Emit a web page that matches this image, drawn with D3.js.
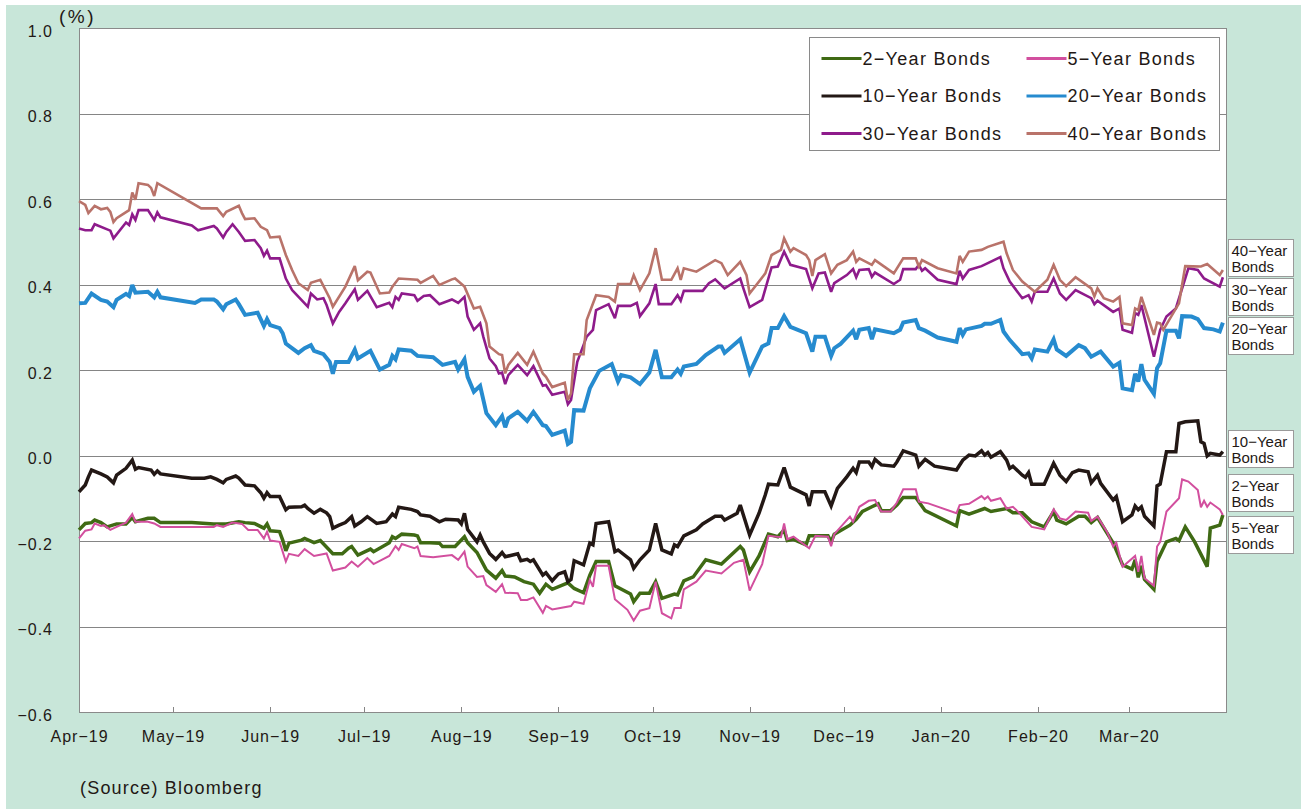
<!DOCTYPE html>
<html>
<head>
<meta charset="utf-8">
<script src="https://cdn.jsdelivr.net/npm/d3@7/dist/d3.min.js"></script>
<style>
  body { margin: 0; background: #fff; }
  text { font-family: "Liberation Sans", Arial, sans-serif; fill: #231815; }
</style>
</head>
<body>
<div class="chart"></div>
<script>
// yields of JGBs, Apr-19 .. Mar-20
const yTicks = [1.0, 0.8, 0.6, 0.4, 0.2, 0.0, -0.2, -0.4, -0.6]
const monthTicks = ["190401","190501","190601","190701","190801","190901","191001","191101","191201","200101","200201","200301"]
const seriesNames = ["2-Year Bonds","5-Year Bonds","10-Year Bonds","20-Year Bonds","30-Year Bonds","40-Year Bonds"]
const sideLabels = ["40-Year Bonds","30-Year Bonds","20-Year Bonds","10-Year Bonds","2-Year Bonds","5-Year Bonds"]

const bond2 = [["190401",-0.174],["190403",-0.159],["190405",-0.157],["190406",-0.151],["190408",-0.157],["190410",-0.167],["190413",-0.160],["190416",-0.160],["190418",-0.145],["190419",-0.155],["190423",-0.147],["190425",-0.147],["190427",-0.157],["190507",-0.157],["190514",-0.160],["190518",-0.160],["190522",-0.155],["190524",-0.157],["190527",-0.159],["190530",-0.170],["190531",-0.160],["190601",-0.176],["190604",-0.178],["190605",-0.198],["190606",-0.223],["190607",-0.205],["190611",-0.198],["190612",-0.194],["190615",-0.204],["190617",-0.199],["190621",-0.230],["190624",-0.230],["190626",-0.217],["190627",-0.213],["190629",-0.233],["190703",-0.219],["190704",-0.225],["190709",-0.204],["190710",-0.190],["190711",-0.194],["190713",-0.184],["190717",-0.186],["190718",-0.188],["190719",-0.204],["190722",-0.204],["190725",-0.205],["190726",-0.213],["190730",-0.213],["190802",-0.190],["190803",-0.204],["190806",-0.227],["190809",-0.268],["190812",-0.287],["190814",-0.269],["190815",-0.282],["190818",-0.284],["190821",-0.295],["190824",-0.301],["190826",-0.322],["190828",-0.301],["190830",-0.313],["190903",-0.301],["190904",-0.298],["190906",-0.311],["190909",-0.321],["190911",-0.280],["190913",-0.248],["190917",-0.248],["190919",-0.305],["190924",-0.324],["190925",-0.342],["190927",-0.322],["190930",-0.322],["191002",-0.295],["191004",-0.334],["191008",-0.324],["191009",-0.326],["191011",-0.293],["191014",-0.284],["191018",-0.244],["191023",-0.254],["191029",-0.213],["191030",-0.221],["191101",-0.272],["191104",-0.235],["191107",-0.184],["191110",-0.190],["191112",-0.174],["191113",-0.199],["191115",-0.196],["191119",-0.209],["191120",-0.188],["191126",-0.188],["191127",-0.202],["191128",-0.184],["191203",-0.163],["191205",-0.149],["191207",-0.131],["191210",-0.120],["191212",-0.113],["191213",-0.129],["191216",-0.129],["191218",-0.116],["191220",-0.098],["191224",-0.098],["191227",-0.129],["200106",-0.165],["200107",-0.129],["200110",-0.137],["200115",-0.124],["200117",-0.131],["200122",-0.124],["200124",-0.134],["200127",-0.134],["200130",-0.155],["200203",-0.167],["200206",-0.131],["200207",-0.151],["200210",-0.160],["200214",-0.142],["200216",-0.142],["200218",-0.157],["200220",-0.145],["200223",-0.181],["200225",-0.205],["200228",-0.256],["200302",-0.266],["200303",-0.244],["200304",-0.285],["200305",-0.258],["200306",-0.290],["200309",-0.313],["200310",-0.248],["200313",-0.202],["200316",-0.194],["200317",-0.199],["200319",-0.167],["200322",-0.202],["200326",-0.260],["200327",-0.170],["200330",-0.163],["200331",-0.139]]

const bond5 = [["190401",-0.194],["190403",-0.176],["190405",-0.173],["190406",-0.159],["190408",-0.165],["190409",-0.163],["190411",-0.174],["190413",-0.167],["190416",-0.157],["190418",-0.137],["190419",-0.155],["190423",-0.155],["190425",-0.159],["190427",-0.167],["190514",-0.167],["190515",-0.163],["190517",-0.167],["190520",-0.157],["190523",-0.160],["190525",-0.174],["190528",-0.174],["190530",-0.194],["190531",-0.178],["190601",-0.199],["190604",-0.202],["190606",-0.248],["190607",-0.230],["190610",-0.235],["190612",-0.219],["190615",-0.235],["190619",-0.229],["190621",-0.269],["190625",-0.262],["190627",-0.248],["190629",-0.260],["190702",-0.240],["190704",-0.254],["190709",-0.235],["190711",-0.212],["190712",-0.221],["190713",-0.207],["190717",-0.217],["190718",-0.213],["190719",-0.235],["190723",-0.238],["190729",-0.233],["190731",-0.244],["190802",-0.225],["190803",-0.260],["190806",-0.284],["190808",-0.282],["190809",-0.303],["190812",-0.319],["190814",-0.301],["190815",-0.321],["190819",-0.322],["190820",-0.338],["190822",-0.338],["190824",-0.332],["190827",-0.368],["190828",-0.352],["190830",-0.360],["190905",-0.352],["190906",-0.342],["190909",-0.347],["190911",-0.291],["190912",-0.307],["190913",-0.258],["190917",-0.258],["190919",-0.336],["190923",-0.361],["190925",-0.386],["190927",-0.363],["190930",-0.357],["191002",-0.295],["191004",-0.369],["191007",-0.381],["191008",-0.357],["191010",-0.357],["191011",-0.313],["191015",-0.295],["191018",-0.269],["191023",-0.276],["191027",-0.251],["191030",-0.244],["191101",-0.316],["191105",-0.254],["191107",-0.188],["191111",-0.191],["191112",-0.159],["191113",-0.196],["191115",-0.190],["191120",-0.217],["191122",-0.188],["191126",-0.190],["191127",-0.212],["191128",-0.184],["191203",-0.143],["191204",-0.155],["191206",-0.120],["191209",-0.106],["191211",-0.104],["191213",-0.131],["191216",-0.131],["191218",-0.110],["191220",-0.079],["191224",-0.079],["191225",-0.108],["191228",-0.112],["200106",-0.135],["200107",-0.116],["200110",-0.113],["200114",-0.095],["200115",-0.102],["200116",-0.096],["200117",-0.106],["200120",-0.100],["200122",-0.124],["200124",-0.120],["200126",-0.134],["200130",-0.167],["200203",-0.173],["200206",-0.126],["200208",-0.147],["200210",-0.151],["200213",-0.131],["200217",-0.134],["200218",-0.153],["200220",-0.143],["200223",-0.178],["200225",-0.213],["200226",-0.204],["200228",-0.260],["200303",-0.235],["200304",-0.272],["200305",-0.235],["200306",-0.287],["200309",-0.305],["200310",-0.213],["200311",-0.202],["200313",-0.131],["200317",-0.100],["200318",-0.056],["200320",-0.061],["200323",-0.081],["200324",-0.121],["200325",-0.106],["200326",-0.120],["200327",-0.110],["200330",-0.126],["200331",-0.139]]

const bond10 = [["190401",-0.085],["190403",-0.069],["190404",-0.050],["190405",-0.034],["190408",-0.043],["190410",-0.050],["190411",-0.057],["190412",-0.064],["190413",-0.046],["190416",-0.030],["190418",-0.011],["190419",-0.032],["190420",-0.028],["190424",-0.034],["190425",-0.044],["190426",-0.036],["190427",-0.043],["190507",-0.053],["190511",-0.053],["190513",-0.050],["190515",-0.056],["190517",-0.064],["190518",-0.056],["190521",-0.048],["190522",-0.053],["190524",-0.069],["190527",-0.071],["190529",-0.087],["190530",-0.100],["190531",-0.087],["190601",-0.096],["190604",-0.096],["190606",-0.127],["190607",-0.121],["190611",-0.120],["190612",-0.116],["190613",-0.124],["190615",-0.135],["190617",-0.126],["190619",-0.134],["190620",-0.143],["190621",-0.170],["190623",-0.163],["190625",-0.157],["190627",-0.143],["190628",-0.165],["190630",-0.155],["190702",-0.143],["190705",-0.159],["190708",-0.155],["190710",-0.137],["190711",-0.143],["190712",-0.121],["190716",-0.126],["190718",-0.131],["190719",-0.139],["190722",-0.142],["190725",-0.155],["190727",-0.149],["190731",-0.151],["190801",-0.160],["190802",-0.135],["190803",-0.173],["190806",-0.202],["190807",-0.186],["190808",-0.202],["190810",-0.229],["190812",-0.243],["190814",-0.227],["190815",-0.237],["190819",-0.230],["190820",-0.246],["190822",-0.243],["190823",-0.248],["190824",-0.244],["190827",-0.280],["190828",-0.274],["190830",-0.293],["190901",-0.277],["190903",-0.272],["190904",-0.295],["190905",-0.290],["190906",-0.246],["190909",-0.256],["190911",-0.205],["190912",-0.209],["190913",-0.159],["190917",-0.155],["190919",-0.225],["190920",-0.221],["190924",-0.244],["190925",-0.264],["190927",-0.244],["190930",-0.221],["191002",-0.159],["191003",-0.190],["191004",-0.221],["191007",-0.230],["191008",-0.209],["191009",-0.213],["191011",-0.188],["191015",-0.174],["191017",-0.160],["191021",-0.142],["191023",-0.142],["191024",-0.151],["191028",-0.135],["191029",-0.116],["191101",-0.186],["191104",-0.135],["191106",-0.092],["191107",-0.067],["191110",-0.069],["191112",-0.028],["191114",-0.074],["191119",-0.092],["191120",-0.118],["191121",-0.085],["191125",-0.085],["191127",-0.118],["191129",-0.077],["191202",-0.050],["191204",-0.030],["191205",-0.040],["191206",-0.015],["191209",-0.015],["191210",-0.026],["191211",-0.009],["191213",-0.022],["191217",-0.025],["191218",-0.015],["191220",0.011],["191224",0.001],["191225",-0.025],["191227",-0.009],["191230",-0.025],["200106",-0.034],["200108",-0.011],["200110",0.001],["200112",-0.001],["200114",0.011],["200115",0.001],["200116",0.007],["200117",-0.004],["200120",0.009],["200122",-0.011],["200123",-0.030],["200124",-0.025],["200127",-0.046],["200128",-0.051],["200129",-0.040],["200130",-0.067],["200203",-0.067],["200206",-0.018],["200208",-0.046],["200210",-0.061],["200212",-0.040],["200214",-0.034],["200217",-0.038],["200218",-0.064],["200220",-0.046],["200221",-0.065],["200225",-0.104],["200226",-0.096],["200228",-0.155],["200302",-0.139],["200303",-0.118],["200304",-0.127],["200305",-0.120],["200306",-0.142],["200309",-0.165],["200310",-0.071],["200311",-0.067],["200313",0.009],["200316",0.009],["200317",0.075],["200319",0.079],["200323",0.081],["200324",0.032],["200325",0.028],["200326",-0.001],["200327",0.005],["200330",0.001],["200331",0.009]]

const bond20 = [["190401",0.356],["190403",0.357],["190405",0.379],["190408",0.364],["190410",0.360],["190412",0.347],["190413",0.364],["190416",0.378],["190417",0.373],["190418",0.399],["190419",0.381],["190423",0.383],["190425",0.370],["190426",0.383],["190427",0.370],["190508",0.357],["190510",0.365],["190514",0.365],["190515",0.360],["190517",0.342],["190518",0.354],["190521",0.365],["190522",0.354],["190524",0.329],["190528",0.334],["190530",0.303],["190531",0.319],["190601",0.305],["190604",0.298],["190605",0.286],["190606",0.262],["190610",0.240],["190612",0.251],["190614",0.258],["190615",0.245],["190618",0.237],["190620",0.219],["190621",0.191],["190622",0.219],["190626",0.219],["190628",0.248],["190629",0.227],["190703",0.245],["190706",0.201],["190709",0.212],["190710",0.233],["190711",0.225],["190712",0.248],["190716",0.245],["190718",0.233],["190723",0.230],["190726",0.212],["190730",0.219],["190731",0.201],["190802",0.225],["190803",0.184],["190805",0.149],["190807",0.163],["190809",0.099],["190812",0.071],["190814",0.092],["190815",0.066],["190816",0.087],["190819",0.102],["190822",0.081],["190824",0.102],["190827",0.071],["190828",0.069],["190830",0.048],["190903",0.058],["190904",0.027],["190905",0.032],["190906",0.106],["190909",0.105],["190911",0.157],["190914",0.198],["190918",0.214],["190920",0.173],["190921",0.188],["190924",0.183],["190927",0.167],["190930",0.194],["191002",0.247],["191004",0.183],["191007",0.183],["191009",0.201],["191010",0.191],["191011",0.208],["191015",0.214],["191018",0.235],["191022",0.255],["191023",0.255],["191024",0.240],["191029",0.272],["191101",0.194],["191105",0.255],["191107",0.262],["191108",0.298],["191110",0.298],["191112",0.326],["191114",0.301],["191119",0.286],["191121",0.243],["191122",0.278],["191125",0.278],["191127",0.233],["191128",0.251],["191130",0.261],["191204",0.292],["191205",0.272],["191206",0.294],["191209",0.298],["191210",0.272],["191211",0.295],["191217",0.286],["191219",0.294],["191220",0.311],["191224",0.317],["191225",0.298],["191227",0.292],["191231",0.276],["200106",0.266],["200107",0.298],["200108",0.282],["200109",0.295],["200114",0.303],["200115",0.308],["200117",0.308],["200120",0.317],["200121",0.290],["200123",0.270],["200127",0.237],["200129",0.239],["200130",0.227],["200131",0.248],["200204",0.243],["200206",0.272],["200207",0.248],["200210",0.233],["200214",0.258],["200216",0.251],["200218",0.231],["200221",0.243],["200225",0.208],["200227",0.217],["200228",0.157],["200302",0.153],["200303",0.191],["200304",0.173],["200305",0.214],["200306",0.177],["200309",0.144],["200310",0.204],["200311",0.216],["200313",0.292],["200316",0.292],["200317",0.274],["200318",0.326],["200321",0.325],["200323",0.319],["200325",0.298],["200328",0.295],["200330",0.290],["200331",0.311]]

const bond30 = [["190401",0.531],["190403",0.527],["190405",0.527],["190406",0.541],["190410",0.529],["190411",0.526],["190412",0.508],["190416",0.545],["190417",0.539],["190418",0.564],["190419",0.551],["190420",0.574],["190423",0.574],["190425",0.551],["190426",0.569],["190427",0.557],["190507",0.538],["190509",0.527],["190514",0.537],["190515",0.531],["190517",0.510],["190518",0.523],["190520",0.541],["190522",0.523],["190524",0.502],["190527",0.504],["190529",0.485],["190530",0.467],["190531",0.479],["190601",0.461],["190604",0.461],["190606",0.414],["190608",0.387],["190609",0.379],["190613",0.348],["190614",0.379],["190616",0.365],["190618",0.368],["190619",0.352],["190621",0.309],["190623",0.336],["190625",0.356],["190628",0.389],["190629",0.364],["190702",0.385],["190705",0.347],["190707",0.352],["190709",0.357],["190710",0.347],["190711",0.371],["190712",0.364],["190713",0.379],["190717",0.375],["190718",0.362],["190720",0.373],["190722",0.375],["190725",0.354],["190729",0.365],["190731",0.357],["190802",0.371],["190803",0.325],["190805",0.294],["190807",0.309],["190808",0.278],["190810",0.227],["190812",0.209],["190813",0.192],["190814",0.194],["190815",0.167],["190816",0.188],["190819",0.212],["190822",0.188],["190824",0.209],["190827",0.163],["190828",0.165],["190830",0.142],["190903",0.149],["190904",0.120],["190905",0.130],["190907",0.219],["190910",0.278],["190912",0.294],["190913",0.340],["190917",0.354],["190919",0.321],["190920",0.350],["190924",0.350],["190926",0.357],["190927",0.326],["190930",0.356],["191002",0.401],["191003",0.354],["191007",0.354],["191009",0.375],["191010",0.362],["191011",0.385],["191017",0.385],["191019",0.403],["191021",0.412],["191024",0.391],["191029",0.414],["191030",0.391],["191101",0.347],["191105",0.364],["191108",0.440],["191110",0.442],["191112",0.477],["191114",0.446],["191119",0.436],["191121",0.391],["191123",0.426],["191125",0.428],["191127",0.383],["191128",0.403],["191202",0.422],["191204",0.436],["191205",0.417],["191206",0.434],["191209",0.436],["191210",0.418],["191211",0.428],["191217",0.401],["191219",0.411],["191220",0.436],["191224",0.436],["191225",0.446],["191226",0.432],["191227",0.438],["191231",0.411],["200106",0.401],["200107",0.432],["200108",0.414],["200110",0.434],["200114",0.443],["200116",0.450],["200120",0.464],["200121",0.438],["200123",0.407],["200127",0.368],["200129",0.375],["200130",0.360],["200131",0.383],["200204",0.383],["200206",0.414],["200208",0.379],["200210",0.364],["200213",0.387],["200218",0.368],["200219",0.354],["200220",0.362],["200225",0.336],["200227",0.344],["200228",0.294],["200302",0.287],["200303",0.333],["200304",0.329],["200305",0.352],["200309",0.231],["200311",0.294],["200313",0.325],["200316",0.344],["200320",0.438],["200323",0.434],["200325",0.414],["200330",0.395],["200331",0.417]]

const bond40 = [["190401",0.595],["190403",0.586],["190404",0.567],["190406",0.584],["190408",0.576],["190410",0.579],["190411",0.570],["190412",0.546],["190413",0.555],["190417",0.574],["190418",0.615],["190419",0.598],["190420",0.637],["190423",0.633],["190424",0.626],["190425",0.607],["190426",0.637],["190510",0.578],["190515",0.578],["190517",0.560],["190518",0.570],["190522",0.584],["190523",0.567],["190524",0.553],["190527",0.555],["190529",0.535],["190531",0.527],["190601",0.510],["190604",0.512],["190606",0.469],["190608",0.434],["190610",0.403],["190613",0.387],["190614",0.404],["190617",0.411],["190620",0.368],["190621",0.348],["190625",0.395],["190628",0.443],["190629",0.410],["190702",0.430],["190703",0.428],["190706",0.379],["190709",0.381],["190710",0.395],["190712",0.414],["190718",0.411],["190719",0.404],["190723",0.420],["190725",0.399],["190729",0.412],["190730",0.414],["190802",0.395],["190805",0.344],["190807",0.348],["190809",0.309],["190810",0.255],["190813",0.237],["190814",0.235],["190815",0.192],["190816",0.212],["190819",0.240],["190822",0.212],["190824",0.243],["190827",0.192],["190828",0.184],["190830",0.160],["190903",0.170],["190904",0.130],["190905",0.145],["190906",0.237],["190909",0.237],["190910",0.317],["190913",0.375],["190917",0.371],["190919",0.360],["190920",0.401],["190924",0.401],["190925",0.422],["190927",0.387],["190930",0.426],["191002",0.485],["191004",0.411],["191007",0.411],["191009",0.438],["191010",0.411],["191011",0.438],["191015",0.430],["191021",0.457],["191023",0.450],["191025",0.422],["191029",0.453],["191031",0.422],["191101",0.379],["191106",0.426],["191108",0.469],["191111",0.481],["191112",0.508],["191114",0.477],["191115",0.485],["191119",0.469],["191120",0.457],["191121",0.420],["191122",0.457],["191125",0.471],["191127",0.426],["191129",0.446],["191202",0.457],["191204",0.477],["191205",0.453],["191206",0.461],["191210",0.446],["191211",0.457],["191217",0.426],["191220",0.461],["191224",0.461],["191225",0.442],["191226",0.457],["191231",0.438],["200106",0.426],["200107",0.467],["200108",0.453],["200110",0.477],["200114",0.481],["200116",0.488],["200121",0.500],["200122",0.473],["200124",0.434],["200127",0.407],["200131",0.383],["200204",0.411],["200206",0.446],["200208",0.411],["200210",0.396],["200213",0.417],["200218",0.391],["200219",0.372],["200220",0.391],["200222",0.368],["200225",0.360],["200227",0.371],["200228",0.309],["200302",0.305],["200303",0.344],["200304",0.340],["200305",0.371],["200309",0.282],["200310",0.311],["200311",0.309],["200312",0.294],["200317",0.356],["200319",0.443],["200324",0.442],["200326",0.448],["200330",0.422],["200331",0.434]]

const seriesData = [bond2, bond5, bond10, bond20, bond30, bond40]

// styles
const colors = ["#3f6a14", "#d24f9e", "#231815", "#268bcf", "#8e1b8b", "#b9736a"]
const widths = [3.5, 2, 3.5, 4, 2.6, 2.6]

const W = 1301, H = 809
const margin = {top: 28, right: 75, bottom: 97, left: 79}
const plotW = W - margin.left - margin.right
const plotH = H - margin.top - margin.bottom
const minus = s => s.replace(/-/g, "\u2212")
const parse = d3.timeParse("%y%m%d")

let svg = d3.select(".chart")
  .append("svg")
    .attr("width", W)
    .attr("height", H)

// mint backdrop
svg.append("rect")
  .attr("x", 6).attr("y", 5)
  .attr("width", W - 6).attr("height", H - 5)
  .attr("fill", "#c8e6d9")

let g = svg.append("g")
  .attr("transform", "translate(" + margin.left + "," + margin.top + ")")

g.append("rect")
  .attr("width", plotW).attr("height", plotH)
  .attr("fill", "#fff")

let x = d3.scaleTime()
  .domain([parse("190401"), parse("200401")])
  .range([0, plotW])

let y = d3.scaleLinear()
  .domain([-0.6, 1.0])
  .range([plotH, 0])

// y grid + labels
let yAxis = g.append("g")
  .call(d3.axisLeft(y)
    .tickValues(yTicks)
    .tickSizeInner(-plotW)
    .tickSizeOuter(0)
    .tickPadding(26)
    .tickFormat(d => minus(d3.format(".1f")(d))))
yAxis.select(".domain").remove()
yAxis.selectAll("line")
  .attr("stroke", "#858585")
  .attr("shape-rendering", "crispEdges")
yAxis.selectAll("text")
  .attr("dy", "0.5em")
  .style("font-size", "16px")
  .style("letter-spacing", "1px")
  .style("font-family", "Liberation Sans, Arial, sans-serif")
  .attr("fill", "#231815")

// x axis: small inward ticks, labels centred on month starts
let xAxis = g.append("g")
  .attr("transform", "translate(0," + plotH + ")")
  .call(d3.axisBottom(x)
    .tickValues(monthTicks.map(parse))
    .tickSizeInner(-5)
    .tickSizeOuter(0)
    .tickPadding(19)
    .tickFormat(d => minus(d3.timeFormat("%b-%y")(d))))
xAxis.select(".domain").remove()
xAxis.selectAll("line")
  .attr("stroke", "#858585")
  .attr("shape-rendering", "crispEdges")
xAxis.selectAll("text")
  .style("font-size", "16px")
  .style("letter-spacing", "1px")
  .style("font-family", "Liberation Sans, Arial, sans-serif")
  .attr("fill", "#231815")

// frame
g.append("rect")
  .attr("x", 0.5).attr("y", 0.5)
  .attr("width", plotW).attr("height", plotH)
  .attr("fill", "none")
  .attr("stroke", "#8a8a8a")

let line = d3.line()
  .x(d => x(parse(d[0])))
  .y(d => y(d[1]))

g.selectAll(".series")
  .data(seriesData)
  .enter()
  .append("path")
    .attr("class", "series")
    .attr("d", line)
    .attr("fill", "none")
    .attr("stroke", (d, i) => colors[i])
    .attr("stroke-width", (d, i) => widths[i])
    .attr("stroke-linejoin", "miter")
    .attr("stroke-miterlimit", 3)

// legend
let legend = svg.append("g").attr("transform", "translate(809.5,37.5)")
legend.append("rect")
  .attr("width", 410).attr("height", 113)
  .attr("fill", "#fff")
  .attr("stroke", "#8a8a8a")

let item = legend.selectAll(".item")
  .data(seriesNames)
  .enter()
  .append("g")
    .attr("class", "item")
    .attr("transform", (d, i) => "translate(" + (i % 2 ? 217 : 12) + "," + (21 + Math.floor(i / 2) * 37.5) + ")")
item.append("line")
  .attr("x1", 0).attr("x2", 40)
  .attr("stroke", (d, i) => colors[i])
  .attr("stroke-width", 3)
item.append("text")
  .attr("x", 41)
  .attr("dy", "0.36em")
  .style("font-size", "18px")
  .style("letter-spacing", "1.3px")
  .text(d => minus(d))

// boxed labels at the right end of each line
const sideTop = {"40-Year Bonds": 239, "30-Year Bonds": 278, "20-Year Bonds": 317,
                 "10-Year Bonds": 430, "2-Year Bonds": 474, "5-Year Bonds": 516}
let side = svg.selectAll(".side")
  .data(sideLabels)
  .enter()
  .append("g")
    .attr("class", "side")
    .attr("transform", d => "translate(1228.5," + (sideTop[d] + 0.5) + ")")
side.append("rect")
  .attr("width", 65).attr("height", 37)
  .attr("fill", "#fff")
  .attr("stroke", "#9a9a9a")
side.append("text")
  .attr("x", 3).attr("y", 16)
  .style("font-size", "15px")
  .text(d => minus(d.split(" ")[0]))
side.append("text")
  .attr("x", 3).attr("y", 32)
  .style("font-size", "15px")
  .text(d => d.split(" ")[1])

svg.append("text")
  .attr("x", 59).attr("y", 23)
  .style("font-size", "19px")
  .style("letter-spacing", "2.5px")
  .text("(%)")

svg.append("text")
  .attr("x", 80).attr("y", 794)
  .style("font-size", "18px")
  .style("letter-spacing", "1.2px")
  .text("(Source) Bloomberg")
</script>
</body>
</html>
